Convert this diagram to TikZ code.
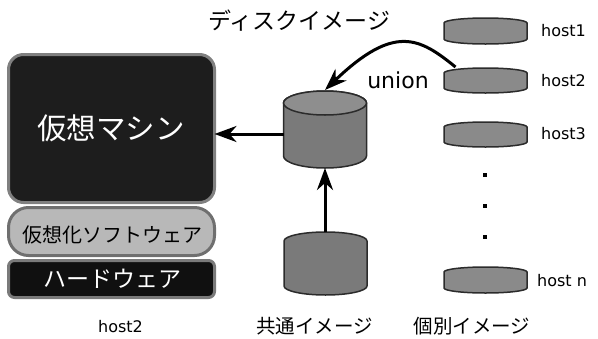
\documentclass[tikz,border=0pt]{standalone}
\usepackage{fontspec}
\setmainfont{DejaVu Sans}
\newfontfamily\jp{Noto Sans CJK JP}
\usetikzlibrary{arrows.meta,calc}
\definecolor{vmfill}{HTML}{1D1D1D}
\definecolor{vmborder}{HTML}{808080}
\definecolor{swfill}{HTML}{B8B8B8}
\definecolor{swborder}{HTML}{6F6F6F}
\definecolor{hwfill}{HTML}{101010}
\definecolor{hwborder}{HTML}{7A7A7A}
\definecolor{cylline}{HTML}{2B2B2B}
\definecolor{bodygray}{HTML}{7A7A7A}
\definecolor{lidgray}{HTML}{8E8E8E}
\definecolor{hostgray}{HTML}{8A8A8A}
\tikzset{
  layer/.style={line width=3pt, outer sep=0pt, inner sep=0pt},
  cyl/.style={draw=cylline, line width=1.5pt, fill=bodygray},
  hostdisk/.style={draw=cylline, line width=1.5pt, fill=hostgray},
  anchorbox/.style={draw=none, inner sep=0pt, outer sep=0pt},
  arr/.style={line width=3pt, -{Stealth[length=22pt,width=16pt,inset=7pt]}},
  jplabel/.style={font=\jp\fontsize{#1}{#1}\selectfont, inner sep=0pt},
  hostlabel/.style={font=\fontsize{16}{16}\selectfont, inner sep=0pt, anchor=west},
  dotsq/.style={fill=black, draw=none, minimum size=4pt, inner sep=0pt},
}
\begin{document}
\begin{tikzpicture}[x=1pt, y=-1pt]
\useasboundingbox (0,0) rectangle (598,338);

% left stack
\node[layer, draw=vmborder, fill=vmfill, rounded corners=15pt,
      minimum width=206pt, minimum height=148pt] (vm) at (111.5,128.5) {};
\node[jplabel=29.5, text=white] (vmtext) at (111,128.5) {仮想マシン};
\node[layer, draw=swborder, fill=swfill, rounded corners=20pt,
      minimum width=206pt, minimum height=48pt] (sw) at (111.5,231.5) {};
\node[jplabel=20, text=black] (swtext) at (112.5,235) {仮想化ソフトウェア};
\node[layer, draw=hwborder, fill=hwfill, rounded corners=6pt,
      minimum width=206pt, minimum height=37pt] (hw) at (111.5,279) {};
\node[jplabel=23, text=white] (hwtext) at (112.5,279) {ハードウェア};
\node[font=\fontsize{16}{16}\selectfont, inner sep=0pt] (hostlbl) at (120.5,327) {host2};

% disk image cylinder
\draw[cyl] (283.5,103) -- (283.5,156)
  arc[start angle=180, end angle=360, x radius=41.5pt, y radius=12pt]
  -- (366.5,103)
  arc[start angle=0, end angle=180, x radius=41.5pt, y radius=12pt] -- cycle;
\draw[cyl, fill=lidgray] (325,103) ellipse[x radius=41.5pt, y radius=12pt];
\node[anchorbox, minimum width=83pt, minimum height=78pt] (img) at (325,129) {};

% common image cylinder
\draw[cyl] (284,241) -- (284,286)
  arc[start angle=180, end angle=360, x radius=41.5pt, y radius=9pt]
  -- (367,241)
  arc[start angle=0, end angle=180, x radius=41.5pt, y radius=9pt] -- cycle;
\node[anchorbox, minimum width=83pt, minimum height=63pt] (com) at (325,263.5) {};

% host disks
\foreach \t/\b/\n in {23/39/h1, 73/88/h2, 127/142/h3, 272/288/hn}{
  \draw[hostdisk] (444,\t) -- (444,\b)
    arc[start angle=180, end angle=360, x radius=41.5pt, y radius=5pt]
    -- (527,\t)
    arc[start angle=0, end angle=180, x radius=41.5pt, y radius=5pt] -- cycle;
}
\node[anchorbox, minimum width=83pt, minimum height=26pt] (h1) at (485.5,31) {};
\node[anchorbox, minimum width=83pt, minimum height=25pt] (h2) at (485.5,80.5) {};
\node[anchorbox, minimum width=83pt, minimum height=25pt] (h3) at (485.5,134.5) {};
\node[anchorbox, minimum width=83pt, minimum height=26pt] (hn) at (485.5,280) {};

\node[hostlabel] (l1) at (541,31) {host1};
\node[hostlabel] (l2) at (541,80.5) {host2};
\node[hostlabel] (l3) at (541,134) {host3};
\node[hostlabel] (ln) at (537,281) {host n};

\node[dotsq] (d1) at (485,175) {};
\node[dotsq] (d2) at (485,206) {};
\node[dotsq] (d3) at (485,237) {};

% labels
\node[jplabel=23] (disklbl) at (299.5,21) {ディスクイメージ};
\node[jplabel=19.5] (comlbl) at (314.5,326) {共通イメージ};
\node[jplabel=19.5] (indlbl) at (472,326) {個別イメージ};
\node[font=\fontsize{22}{22}\selectfont, inner sep=0pt] (union) at (398,80) {union};

% arrows
\draw[arr] ([xshift=-30pt, yshift=1pt]h2.north) .. controls (419.5,37.8) and (394.5,23.5) .. (img.north);
\draw[arr] ([yshift=-5pt]img.west) -- ([yshift=-5pt]img.west -| vm.east);
\draw[arr] (com.north) -- (img.south);
\end{tikzpicture}
\end{document}
